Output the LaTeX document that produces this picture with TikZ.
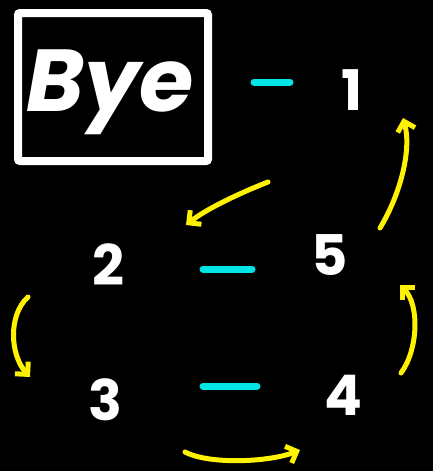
\documentclass[tikz,border=0pt]{standalone}
\usepackage{fontspec}
\setmainfont{Poppins}
\usetikzlibrary{arrows.meta}
\definecolor{aqua}{RGB}{0,230,230}
\begin{document}
\begin{tikzpicture}[x=1pt,y=-1pt,
  num/.style={text=white,font=\fontsize{56}{56}\selectfont\bfseries},
  cyandash/.style={draw=aqua,line width=7pt,line cap=round},
  yarr/.style={draw=yellow,line width=5pt,line cap=round,-{Straight Barb[length=9pt,width=18pt,line width=5pt]}},
  boxst/.style={draw=white,line width=8pt,rounded corners=2pt,minimum width=190pt,minimum height=148pt}]
\fill[black] (0,0) rectangle (433,471);
\useasboundingbox (0,0) rectangle (433,471);
\node[boxst] (bye) at (113,87) {};
\node[text=white,font=\fontsize{88}{88}\selectfont\bfseries\itshape] (byet) at (110,92) {Bye};
\node[num] (n1) at (352,90) {1};
\node[num] (n2) at (108,265) {2};
\node[num] (n5) at (330,255) {5};
\node[num] (n3) at (105,400) {3};
\node[num] (n4) at (343,395) {4};
\coordinate (d1a) at (254,82); \coordinate (d1b) at (290,82);
\coordinate (d2a) at (203,269); \coordinate (d2b) at (252,269);
\coordinate (d3a) at (203,386); \coordinate (d3b) at (257,386);
\draw[cyandash] (d1a) -- (d1b);
\draw[cyandash] (d2a) -- (d2b);
\draw[cyandash] (d3a) -- (d3b);
\coordinate (a1s) at (380,228); \coordinate (a1e) at (403,118);
\draw[yarr] (a1s) .. controls (400,195) and (412,150) .. (a1e);
\coordinate (a2s) at (268,182); \coordinate (a2e) at (186,225);
\draw[yarr] (a2s) .. controls (235,195) and (205,210) .. (a2e);
\coordinate (a3s) at (28,297); \coordinate (a3e) at (30,377);
\draw[yarr] (a3s) .. controls (8,315) and (10,355) .. (a3e);
\coordinate (a4s) at (401,373); \coordinate (a4e) at (400,285);
\draw[yarr] (a4s) .. controls (418,350) and (420,305) .. (a4e);
\coordinate (a5s) at (185,452); \coordinate (a5e) at (300,450);
\draw[yarr] (a5s) .. controls (210,465) and (270,462) .. (a5e);
\end{tikzpicture}
\end{document}
